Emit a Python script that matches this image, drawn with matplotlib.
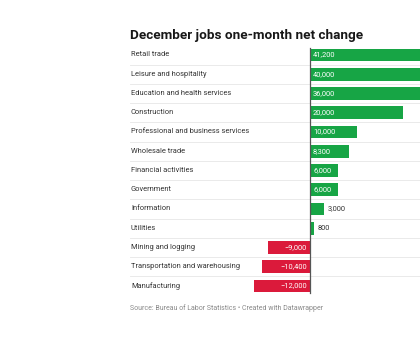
import matplotlib
matplotlib.use("Agg")
import matplotlib.pyplot as plt

categories = ["Retail trade", "Leisure and hospitality", "Education and health services",
              "Construction", "Professional and business services", "Wholesale trade",
              "Financial activities", "Government", "Information", "Utilities",
              "Mining and logging", "Transportation and warehousing", "Manufacturing"]
values = [41200, 40000, 36000, 20000, 10000, 8300, 6000, 6000, 3000, 800, -9000, -10400, -12000]
title = "December jobs one-month net change"
source = "Source: Bureau of Labor Statistics • Created with Datawrapper"

plt.rcParams['font.family'] = ['Roboto', 'DejaVu Sans']

W, H = 420, 350
fig = plt.figure(figsize=(W / 100, H / 100), dpi=100)
ax = fig.add_axes([0, 0, 1, 1])
ax.set_axis_off()

zero_px = 310.0
scale = 4.65 / 1000.0  # px per unit
row0, step = 55.0, 19.25

def vx(px):
    return (px - zero_px) / scale

ax.set_xlim(vx(0), vx(W))
ax.set_ylim((H - row0) / step, -row0 / step)

green = "#17a545"
red = "#db1a3b"
n = len(categories)
ys = list(range(n))
colors = [green if v >= 0 else red for v in values]
ax.barh(ys, values, height=0.66, color=colors, zorder=2)

# separators
for i in range(n - 1):
    ax.plot([vx(130), vx(W)], [i + 0.5, i + 0.5], color="#e6e6e6", lw=0.6, zorder=1)

# zero line
ax.plot([0, 0], [-0.35, n - 0.62], color="#555555", lw=0.9, zorder=3)

for i, (c, v) in enumerate(zip(categories, values)):
    ax.text(vx(131), i, c, ha="left", va="center", fontsize=5.4, color="#333333")
    lab = f"{abs(v):,}"
    if v < 0:
        lab = "\u2212" + lab
    bar_px = abs(v) * scale
    if bar_px > 25:
        if v >= 0:
            ax.text(vx(zero_px + 3), i, lab, ha="left", va="center", fontsize=5.4, color="white", zorder=4)
        else:
            ax.text(vx(zero_px - 3), i, lab, ha="right", va="center", fontsize=5.4, color="white", zorder=4)
    else:
        ax.text(v + vx(zero_px + 4), i, lab, ha="left", va="center", fontsize=5.4, color="#333333", zorder=4)

fig.text(130 / W, 1 - 36 / H, title, ha="left", va="center", fontsize=9.7, fontweight="bold", color="#181818")
fig.text(130 / W, 1 - 308 / H, source, ha="left", va="center", fontsize=5.0, color="#8a8a8a")

fig.savefig("out.png", dpi=100)
